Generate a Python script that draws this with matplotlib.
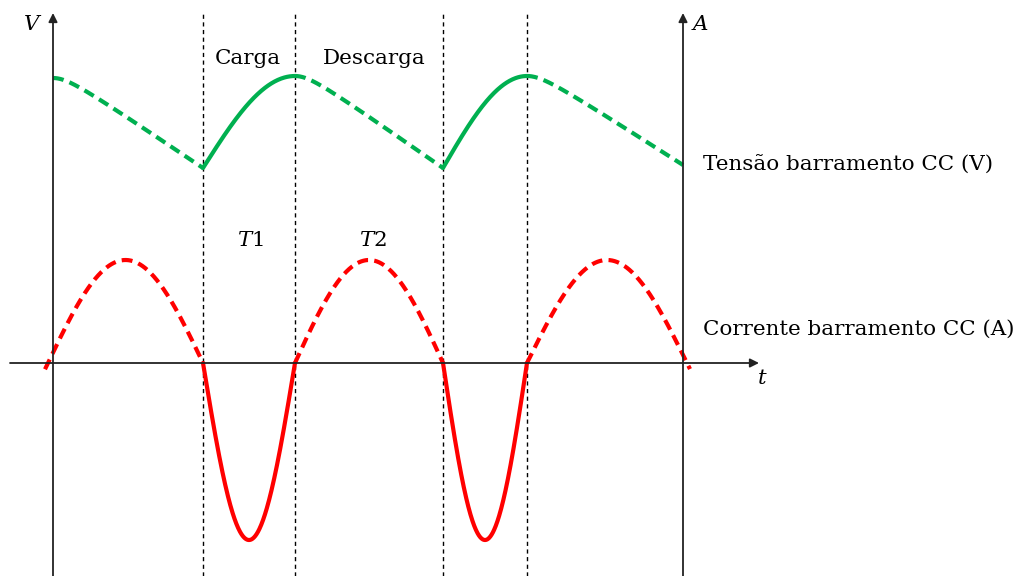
import numpy as np
import matplotlib
matplotlib.use("Agg")
import matplotlib.pyplot as plt

plt.rcParams['font.family'] = ['DejaVu Serif']
plt.rcParams['mathtext.fontset'] = 'custom'
plt.rcParams['mathtext.it'] = 'DejaVu Serif:italic'
plt.rcParams['mathtext.rm'] = 'DejaVu Serif'

# instantes (unidades arbitrarias, origem no cruzamento dos eixos)
t_bounds = [0, 150, 242, 390, 474, 630]        # limites das fases
t_marks = [150, 242, 390, 474]                 # linhas tracejadas verticais
t_right_axis = 630

# tensao: (inicio, fim, v_inicio, v_fim, tipo)
v_segments = [
    (0, 150, 285, 195, 'descarga'),
    (150, 242, 195, 287, 'carga'),
    (242, 390, 287, 195, 'descarga'),
    (390, 474, 195, 287, 'carga'),
    (474, 630, 287, 198, 'descarga'),
]

# corrente: (zero1, zero2, pico, inicio desenho, fim desenho)
i_segments = [
    (-5, 150, 103, -8, 150),
    (150, 242, -177, 150, 242),
    (242, 390, 103, 242, 390),
    (390, 474, -177, 390, 474),
    (474, 634, 103, 474, 637),
]

green = '#00B050'
red = '#FF0000'
axis_col = '#222222'

fig = plt.figure(figsize=(10.25, 5.76), dpi=100)
ax = fig.add_axes([0, 0, 1, 1])
ax.set_xlim(-53, 972)
ax.set_ylim(-213, 363)
ax.axis('off')

# eixos
arrow = dict(arrowstyle='-|>', lw=1.3, color=axis_col, mutation_scale=13, shrinkA=0, shrinkB=0)
ax.annotate('', xy=(0, 350), xytext=(0, -213), arrowprops=arrow)
ax.annotate('', xy=(t_right_axis, 350), xytext=(t_right_axis, -213), arrowprops=arrow)
ax.annotate('', xy=(706, 0), xytext=(-43, 0), arrowprops=arrow)

for tm in t_marks:
    ax.plot([tm, tm], [-213, 350], color='black', lw=1.0, dashes=(3, 2.5))

# tensao barramento
for t0, t1, v0, v1, kind in v_segments:
    t = np.linspace(t0, t1, 200)
    s = (t - t0) / (t1 - t0)
    if kind == 'carga':
        shape = np.sin(np.pi / 2 * s)
        ax.plot(t, v0 + (v1 - v0) * shape, color=green, lw=3, solid_capstyle='round')
    else:
        a = 0.12
        shape = (np.sqrt(s ** 2 + a ** 2) - a) / (np.sqrt(1 + a ** 2) - a)
        ax.plot(t, v0 + (v1 - v0) * shape, color=green, lw=3, dashes=(2.6, 1.5))

# corrente barramento
for z0, z1, peak, a0, a1 in i_segments:
    t = np.linspace(a0, a1, 200)
    i = peak * np.sin(np.pi * (t - z0) / (z1 - z0))
    if peak > 0:
        ax.plot(t, i, color=red, lw=3, dashes=(2.6, 1.5))
    else:
        ax.plot(t, i, color=red, lw=3, solid_capstyle='round')

fs = 15.4
ax.text(-20, 338, '$V$', fontsize=fs, ha='center', va='center')
ax.text(647, 338, '$A$', fontsize=fs, ha='center', va='center')
ax.text(709, -15, '$t$', fontsize=fs, ha='center', va='center')
ax.text(195, 305, 'Carga', fontsize=fs, ha='center', va='center')
ax.text(321, 305, 'Descarga', fontsize=fs, ha='center', va='center')
ax.text(197, 123, '$T1$', fontsize=fs, ha='center', va='center')
ax.text(320, 123, '$T2$', fontsize=fs, ha='center', va='center')
ax.text(650, 199, 'Tensão barramento CC (V)', fontsize=fs, ha='left', va='center')
ax.text(650, 34, 'Corrente barramento CC (A)', fontsize=fs, ha='left', va='center')

fig.savefig('out.png', dpi=100)
